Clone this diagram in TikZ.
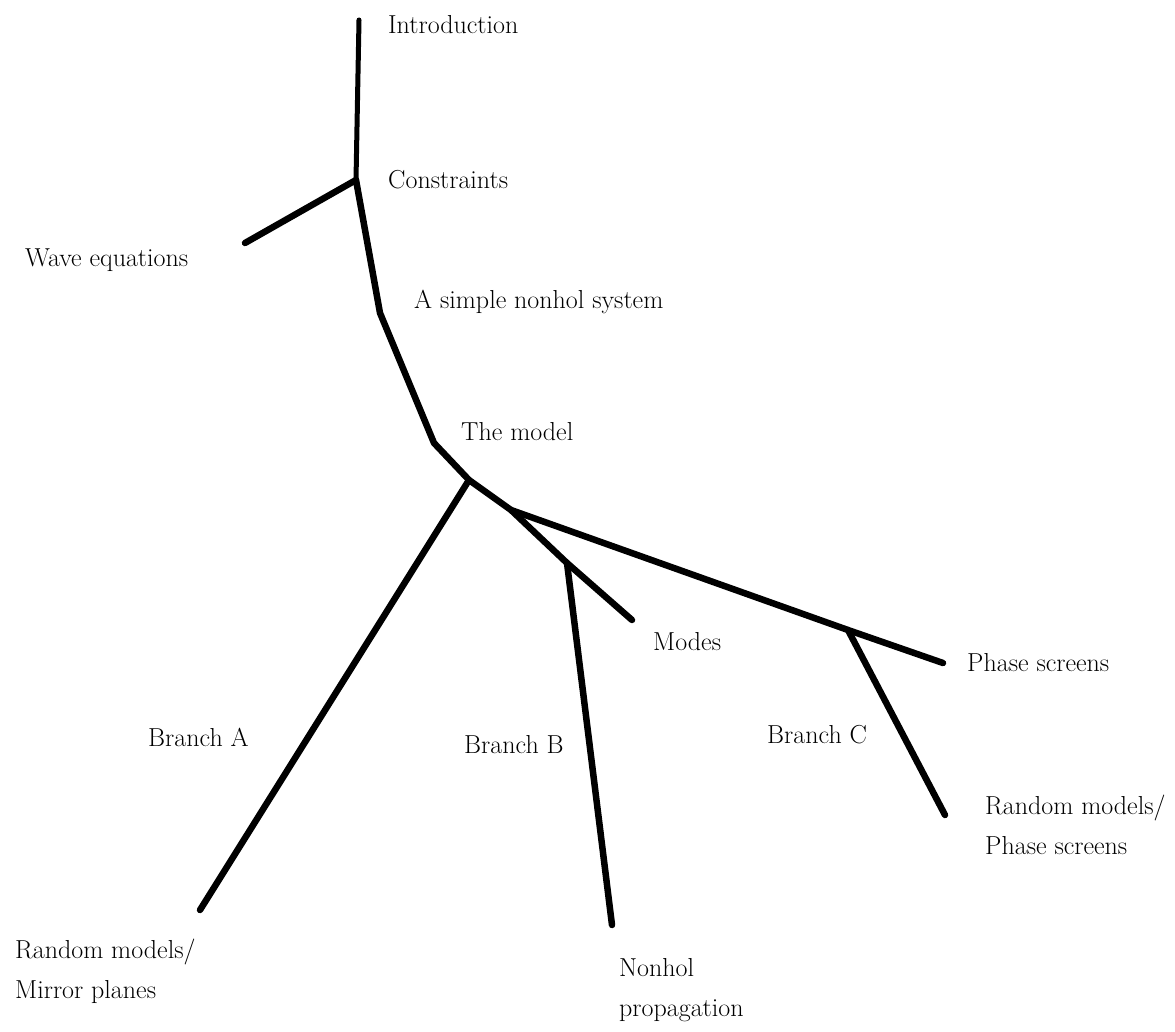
\documentclass[tikz,border=0pt]{standalone}
\begin{document}
\begin{tikzpicture}[x=1pt,y=-1pt,
  branch/.style={line width=6.5pt,line cap=round,line join=round},
  lbl/.style={anchor=west,inner sep=0pt,font=\fontsize{26}{40}\selectfont,align=left}]
\useasboundingbox (0,0) rectangle (1175,1032);
% junctions and ends
\coordinate (top) at (359,20);
\coordinate (cons) at (356,180);
\coordinate (wave) at (245,243);
\coordinate (b1) at (380,313);
\coordinate (b2) at (434,443);
\coordinate (ja) at (469,480);
\coordinate (jc) at (511,510);
\coordinate (jb) at (567,563);
\coordinate (modesend) at (632,620);
\coordinate (jcc) at (848,630);
\coordinate (phaseend) at (943,663);
\coordinate (cend) at (945,815);
\coordinate (bend) at (612,925);
\coordinate (aend) at (200,910);
% connectors
\draw[branch,line width=5pt] (top) -- (cons);
\draw[branch] (cons) -- (wave);
\draw[branch] (cons) -- (b1) -- (b2) -- (ja) -- (jc) -- (jb) -- (modesend);
\draw[branch] (ja) -- (aend);
\draw[branch] (jb) -- (bend);
\draw[branch] (jc) -- (jcc) -- (phaseend);
\draw[branch] (jcc) -- (cend);
% labels
\node[lbl] (intro) at (388,25) {Introduction};
\node[lbl] (constr) at (388,180) {Constraints};
\node[lbl] (waveq) at (25,260) {Wave equations};
\node[lbl] (simple) at (414,302) {A simple nonhol system};
\node[lbl] (model) at (461,432) {The model};
\node[lbl] (modes) at (653,642) {Modes};
\node[lbl] (phase) at (967,663) {Phase screens};
\node[lbl] (bra) at (148,737) {Branch A};
\node[lbl] (brb) at (464,745) {Branch B};
\node[lbl] (brc) at (767,735) {Branch C};
\node[lbl] (rmc) at (985,825) {Random models/\\Phase screens};
\node[lbl] (rma) at (15,971) {Random models/\\Mirror planes};
\node[lbl] (nonhol) at (619,990) {Nonhol\\propagation};
\end{tikzpicture}
\end{document}
